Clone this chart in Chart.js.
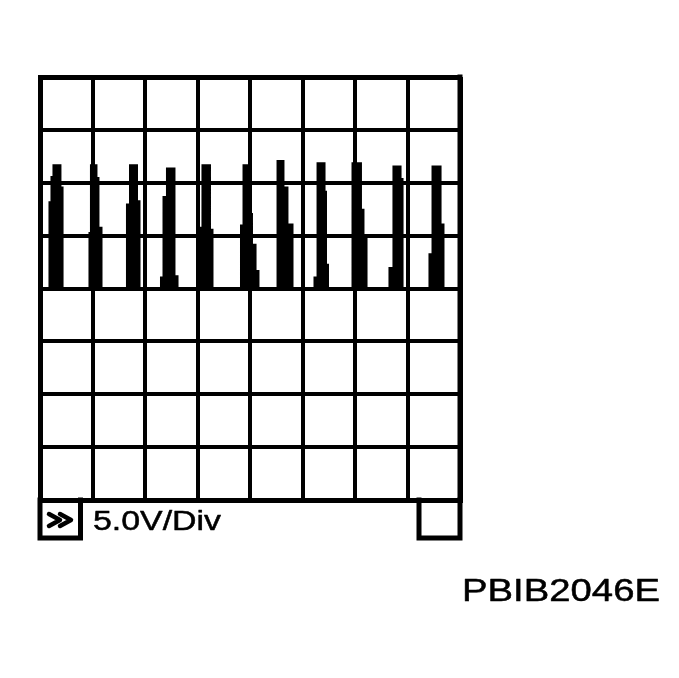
<!DOCTYPE html>
<html>
<head>
<meta charset="utf-8">
<title>PBIB2046E</title>
<script src="https://cdn.jsdelivr.net/npm/chart.js@4.4.1/dist/chart.umd.min.js"></script>
<style>
  html, body { margin: 0; padding: 0; background: #fff; }
  canvas { display: block; }
</style>
</head>
<body>
<canvas id="scope" width="679" height="678"></canvas>
<script>
// scope settings: 8 x 8 divisions, 5 V/div, 5 ms/div
const voltsPerDiv = 5;
const msPerDiv = 5;
const scaleLabel = "5.0V/Div";
const figureCode = "PBIB2046E";

// trace (time in ms, voltage in V)
const traceTime = [
  0,
  0.95, 0.95, 1.14, 1.14, 1.33, 1.33, 1.9, 1.9, 2.1, 2.1,
  4.76, 4.76, 4.9, 4.9, 5.33, 5.33, 5.52, 5.52, 5.81, 5.81,
  8.33, 8.33, 8.62, 8.62, 9.19, 9.19, 9.43, 9.43,
  11.57, 11.57, 11.81, 11.81, 12.14, 12.14, 12.76, 12.76, 13.05, 13.05,
  15.38, 15.38, 15.52, 15.52, 16.14, 16.14, 16.38, 16.38,
  19.19, 19.19, 19.43, 19.43, 19.9, 19.9, 20.14, 20.14, 20.48, 20.48, 20.76, 20.76,
  22.67, 22.67, 23.14, 23.14, 23.52, 23.52, 24.0, 24.0,
  26.19, 26.19, 26.48, 26.48, 27.05, 27.05, 27.19, 27.19, 27.38, 27.38,
  29.81, 29.81, 30.52, 30.52, 30.76, 30.76, 31.05, 31.05,
  33.33, 33.33, 33.71, 33.71, 34.29, 34.29, 34.48, 34.48,
  37.14, 37.14, 37.43, 37.43, 38.1, 38.1, 38.38, 38.38,
  40
];
const traceVolts = [
  0,
  0, 8.1, 8.1, 10.5, 10.5, 11.6, 11.6, 9.5, 9.5, 0,
  0, 5.2, 5.2, 11.6, 11.6, 10.4, 10.4, 5.7, 5.7, 0,
  0, 7.9, 7.9, 11.6, 11.6, 8.2, 8.2, 0,
  0, 1.0, 1.0, 8.6, 8.6, 11.3, 11.3, 1.1, 1.1, 0,
  0, 5.7, 5.7, 11.6, 11.6, 5.5, 5.5, 0,
  0, 5.9, 5.9, 11.6, 11.6, 7.0, 7.0, 4.1, 4.1, 1.6, 1.6, 0,
  0, 12.0, 12.0, 9.5, 9.5, 6.0, 6.0, 0,
  0, 1.0, 1.0, 11.8, 11.8, 9.1, 9.1, 2.2, 2.2, 0,
  0, 11.8, 11.8, 7.4, 7.4, 4.8, 4.8, 0,
  0, 1.9, 1.9, 11.5, 11.5, 10.3, 10.3, 0,
  0, 3.2, 3.2, 11.5, 11.5, 6.0, 6.0, 0,
  0
];

function buildPoints() {
  return traceTime.map((t, i) => ({ x: t, y: traceVolts[i] }));
}

// text drawn wider and a bit heavier than the font, like the original artwork
function drawStretched(ctx, text, x, baseline, fontPx, targetWidth) {
  ctx.save();
  ctx.font = fontPx + "px 'Liberation Sans', Arial, sans-serif";
  const natural = ctx.measureText(text).width;
  ctx.translate(x, baseline);
  ctx.scale(targetWidth / natural, 1);
  ctx.fillStyle = "#000";
  ctx.strokeStyle = "#000";
  ctx.lineWidth = 0.5;
  ctx.lineJoin = "round";
  ctx.textBaseline = "alphabetic";
  ctx.fillText(text, 0, 0);
  ctx.strokeText(text, 0, 0);
  ctx.restore();
}

// bottom status bar, ">>" icon and labels
const scopeFrame = {
  id: "scopeFrame",
  afterDraw(chart) {
    const ctx = chart.ctx;
    const area = chart.chartArea;
    const barBottom = area.bottom + 38;

    ctx.save();
    ctx.strokeStyle = "#000";
    ctx.lineWidth = 5;
    ctx.lineCap = "square";

    // left box
    ctx.beginPath();
    ctx.moveTo(area.left, area.bottom);
    ctx.lineTo(area.left, barBottom);
    ctx.lineTo(area.left + 40.5, barBottom);
    ctx.lineTo(area.left + 40.5, area.bottom);
    ctx.stroke();

    // right box
    ctx.beginPath();
    ctx.moveTo(area.right - 41, area.bottom);
    ctx.lineTo(area.right - 41, barBottom);
    ctx.lineTo(area.right, barBottom);
    ctx.lineTo(area.right, area.bottom);
    ctx.stroke();

    // right edge of the frame, drawn again so the top corner is closed
    ctx.beginPath();
    ctx.moveTo(area.right, area.top);
    ctx.lineTo(area.right, area.bottom);
    ctx.stroke();

    // double chevron
    ctx.lineWidth = 4.5;
    ctx.lineJoin = "round";
    ctx.lineCap = "round";
    [area.left + 9, area.left + 20].forEach((x0) => {
      ctx.beginPath();
      ctx.moveTo(x0, area.bottom + 14);
      ctx.lineTo(x0 + 11, area.bottom + 20);
      ctx.lineTo(x0, area.bottom + 26);
      ctx.stroke();
    });
    ctx.restore();

    drawStretched(ctx, scaleLabel, area.left + 53, area.bottom + 30, 27, 128);
    drawStretched(ctx, figureCode, area.left + 422, area.bottom + 101, 32, 198);
  }
};

function edgeWidth(context) {
  const last = context.scale.ticks.length - 1;
  return (context.index === 0 || context.index === last) ? 5 : 4;
}

function main() {
  new Chart(document.getElementById("scope"), {
    type: "line",
    data: {
      datasets: [{
        label: "signal",
        data: buildPoints(),
        borderColor: "#000",
        backgroundColor: "#000",
        borderWidth: 3,
        pointRadius: 0,
        tension: 0,
        fill: "origin",
        borderJoinStyle: "miter"
      }]
    },
    options: {
      responsive: false,
      animation: false,
      layout: { padding: { left: 40, top: 77, right: 219, bottom: 178 } },
      plugins: {
        legend: { display: false },
        tooltip: { enabled: false }
      },
      scales: {
        x: {
          type: "linear",
          min: 0,
          max: 8 * msPerDiv,
          ticks: { display: false, stepSize: msPerDiv },
          grid: { color: "#000", lineWidth: edgeWidth, drawTicks: false },
          border: { display: true, color: "#000", width: 5 },
          afterFit: (scale) => { scale.height = 0; }
        },
        y: {
          type: "linear",
          min: -4 * voltsPerDiv,
          max: 4 * voltsPerDiv,
          ticks: { display: false, stepSize: voltsPerDiv },
          grid: { color: "#000", lineWidth: edgeWidth, drawTicks: false },
          border: { display: true, color: "#000", width: 5 },
          afterFit: (scale) => { scale.width = 0; }
        }
      }
    },
    plugins: [scopeFrame]
  });
}

main();
</script>
</body>
</html>
